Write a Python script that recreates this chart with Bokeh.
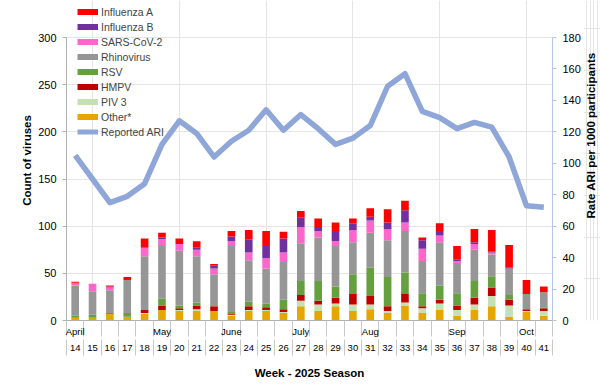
import math
from bokeh.plotting import figure
from bokeh.layouts import row
from bokeh.core.properties import value
from bokeh.models import (Range1d, LinearAxis, FixedTicker, SingleIntervalTicker,
                          Legend, LegendItem, ColumnDataSource)
from bokeh.embed import file_html
from bokeh.resources import INLINE

weeks = list(range(14, 42))
month_ticks = [14, 19, 23, 27, 31, 36, 40]
month_labels = ["April", "May", "June", "July", "Aug", "Sep", "Oct"]

influenza_a = [1, 0, 1, 2, 9, 5, 6, 7, 2, 6, 10, 15, 7, 7, 10, 9, 5, 9, 14, 10, 3, 8, 14, 14, 23, 24, 15, 6]
influenza_b = [0, 0, 1, 1, 1, 2, 0, 2, 3, 5, 14, 14, 15, 10, 3, 11, 7, 4, 7, 13, 9, 5, 2, 2, 1, 1, 0, 0]
sars_cov_2 = [3, 8, 3, 0, 9, 6, 7, 7, 6, 5, 8, 11, 10, 17, 7, 5, 13, 13, 12, 9, 13, 7, 2, 6, 2, 0, 0, 0]
rhinovirus = [32, 25, 24, 35, 57, 57, 58, 49, 34, 70, 44, 37, 40, 40, 46, 43, 34, 37, 39, 44, 34, 46, 32, 33, 23, 28, 16, 16]
rsv = [2, 3, 1, 4, 0, 7, 3, 3, 0, 2, 5, 4, 10, 15, 21, 12, 21, 30, 31, 23, 14, 15, 13, 18, 12, 5, 0, 1]
hmpv = [0, 0, 0, 0, 3, 5, 2, 4, 5, 1, 4, 3, 3, 6, 4, 6, 11, 9, 5, 9, 2, 4, 5, 7, 9, 6, 2, 3]
piv3 = [0, 0, 0, 0, 1, 0, 1, 2, 0, 1, 1, 1, 1, 6, 7, 3, 7, 5, 2, 3, 5, 7, 6, 6, 11, 12, 1, 5]
other = [3, 3, 7, 4, 7, 11, 10, 10, 10, 5, 10, 10, 8, 15, 10, 15, 10, 12, 8, 16, 8, 11, 5, 11, 15, 4, 9, 5]
reported_ari = [105, 90, 75, 79, 87, 112, 127, 119, 104, 114, 121, 134, 121, 131, 122, 112, 116, 124,
                149, 157, 133, 129, 122, 126, 123, 104, 73, 72]

series_names = ["Other*", "PIV 3", "HMPV", "RSV", "Rhinovirus", "SARS-CoV-2", "Influenza B", "Influenza A"]
series_values = [other, piv3, hmpv, rsv, rhinovirus, sars_cov_2, influenza_b, influenza_a]
series_colors = ["#E5A600", "#C5E0B3", "#C00000", "#64A03E", "#969696", "#FF66CC", "#7030A0", "#FF0000"]
ari_color = "#8FA6D8"
right_title_text = "Rate ARI  per 1000 participants"

FONT = "Liberation Sans"

data = {"week": weeks}
for name, vals in zip(series_names, series_values):
    data[name] = vals
source = ColumnDataSource(data)

# frame spans from the page top to the zero line; axes are bounded to 0..300 / 0..180
FRAME_H = 320.0
AXIS_H = 283.0
left_max, right_max = 300, 180
MAIN_W, SIDE_W, H = 583, 17, 384

p = figure(width=MAIN_W, height=H, output_backend="svg", toolbar_location=None,
           x_range=Range1d(13.5, 41.5), y_range=Range1d(0, left_max * FRAME_H / AXIS_H),
           x_axis_location=None, y_axis_location=None,
           min_border_left=66, min_border_right=MAIN_W - 555, min_border_top=0,
           min_border_bottom=64)
p.outline_line_color = None
p.extra_y_ranges = {"ari": Range1d(0, right_max * FRAME_H / AXIS_H)}

p.vbar_stack(series_names, x="week", width=0.44, color=series_colors, source=source,
             line_color=None)

p.line(weeks, reported_ari, y_range_name="ari", line_color=ari_color, line_width=5.5,
       line_join="round")

# legend swatches (proxy lines placed outside the visible x range)
legend_order = ["Influenza A", "Influenza B", "SARS-CoV-2", "Rhinovirus", "RSV", "HMPV", "PIV 3", "Other*"]
items = []
for name in legend_order:
    c = series_colors[series_names.index(name)]
    r = p.line([0, 1], [-10, -10], line_color=c, line_width=6)
    items.append(LegendItem(label=name, renderers=[r]))
r_ari = p.line([0, 1], [-10, -10], line_color=ari_color, line_width=5)
items.append(LegendItem(label="Reported ARI", renderers=[r_ari]))
legend = Legend(items=items, location=(11, 182), glyph_width=21, glyph_height=13,
                label_height=13, spacing=2, padding=0, margin=0, label_standoff=3,
                label_text_font=FONT, label_text_font_size="10.5px",
                border_line_alpha=0, background_fill_alpha=0)
p.add_layout(legend)

seps = [w - 0.5 for w in weeks] + [weeks[-1] + 0.5]

left = LinearAxis(ticker=SingleIntervalTicker(interval=50), axis_label="Count of viruses",
                  bounds=(0, left_max))
right = LinearAxis(y_range_name="ari", ticker=SingleIntervalTicker(interval=20),
                   bounds=(0, right_max))
for ax, col in ((left, "#B0B0B0"), (right, "#B4C6E7")):
    ax.axis_line_color = col
    ax.major_tick_line_color = col
    ax.major_tick_out = 4
    ax.major_tick_in = 0
    ax.minor_tick_line_color = None
    ax.major_label_text_font = FONT
    ax.major_label_text_font_size = "11px"
    ax.major_label_text_color = "black"
    ax.major_label_standoff = 6
    ax.axis_label_text_font = FONT
    ax.axis_label_text_font_size = "11.5px"
    ax.axis_label_text_font_style = "bold"
    ax.axis_label_text_color = "black"
left.axis_label_standoff = 2
p.add_layout(left, "left")
p.add_layout(right, "right")

month_axis = LinearAxis(ticker=FixedTicker(ticks=month_ticks, minor_ticks=seps),
                        major_label_overrides={t: l for t, l in zip(month_ticks, month_labels)})
week_axis = LinearAxis(ticker=FixedTicker(ticks=weeks, minor_ticks=seps),
                       axis_label="Week - 2025 Season")
for ax in (month_axis, week_axis):
    ax.major_tick_out = 0
    ax.major_tick_in = 0
    ax.minor_tick_in = 0
    ax.minor_tick_out = 16
    ax.minor_tick_line_color = "#C8C8C8"
    ax.major_label_text_font = FONT
    ax.major_label_text_font_size = "9.5px"
    ax.major_label_text_color = "black"
    ax.major_label_standoff = -11
month_axis.axis_line_color = "#B0B0B0"
week_axis.axis_line_color = None
week_axis.axis_label_text_font = FONT
week_axis.axis_label_text_font_size = "11.5px"
week_axis.axis_label_text_font_style = "bold"
week_axis.axis_label_text_color = "black"
week_axis.axis_label_standoff = 13
p.add_layout(month_axis, "below")
p.add_layout(week_axis, "below")

# narrow side figure carrying the right-hand axis title, reading bottom-to-top
q = figure(width=SIDE_W, height=H, output_backend="svg", toolbar_location=None,
           x_range=Range1d(0, 1), y_range=Range1d(0, H),
           x_axis_location=None, y_axis_location=None, min_border=0)
q.outline_line_color = None
q.text(x=[0.45], y=[H - 160], text=[right_title_text], angle=math.pi / 2,
       text_align="center", text_baseline="middle", text_font=value(FONT),
       text_font_size="11.5px", text_font_style="bold", text_color="black")

layout = row(p, q)
open("out.html", "w").write(file_html(layout, INLINE))
